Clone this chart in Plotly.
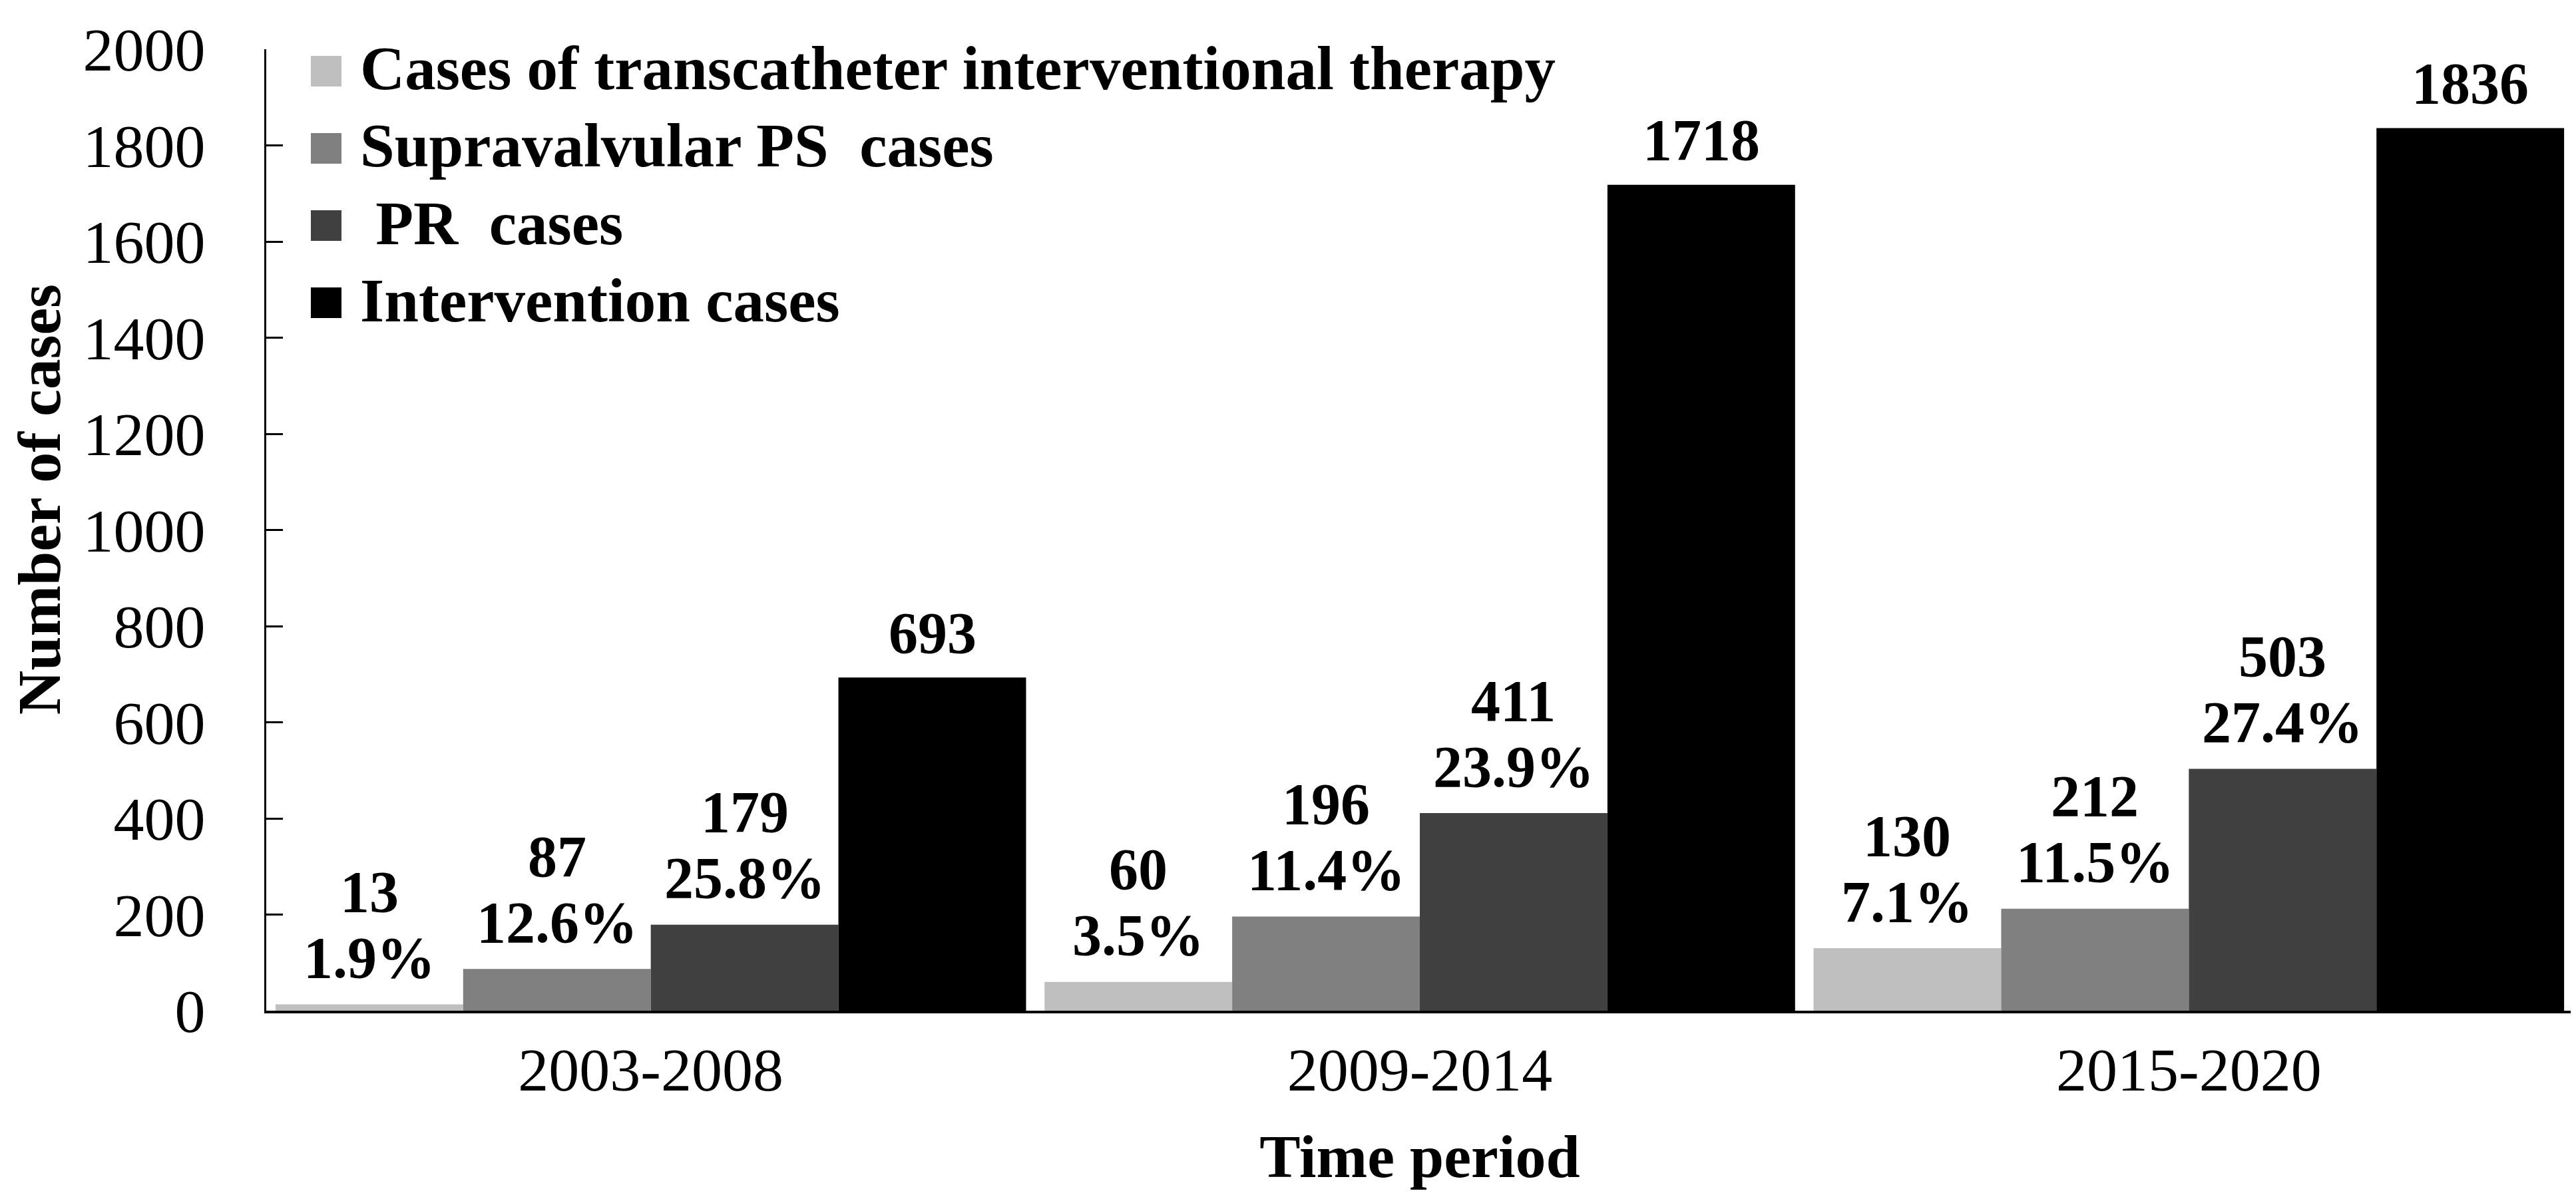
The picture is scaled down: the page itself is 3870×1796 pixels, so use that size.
import plotly.graph_objects as go

# ---------------- data ----------------
periods = ["2003-2008", "2009-2014", "2015-2020"]
series_names = [
    "Cases of transcatheter interventional therapy",
    "Supravalvular PS\u00a0 cases",
    "\u00a0PR\u00a0 cases",
    "Intervention cases",
]
transcatheter = [13, 60, 130]
supravalvular = [87, 196, 212]
pr_cases = [179, 411, 503]
intervention = [693, 1718, 1836]
transcatheter_pct = ["1.9%", "3.5%", "7.1%"]
supravalvular_pct = ["12.6%", "11.4%", "11.5%"]
pr_pct = ["25.8%", "23.9%", "27.4%"]
y_tick_values = [0, 200, 400, 600, 800, 1000, 1200, 1400, 1600, 1800, 2000]

# ---------------- style ----------------
colors = ["#BFBFBF", "#808080", "#404040", "#000000"]
FONT = "Liberation Serif, Times New Roman, serif"
BARGAP = 0.024
W, H = 3870, 1796
ML, MR, MT, MB = 392, 12, 66, 285
PW, PH = W - ML - MR, H - MT - MB


def px_to_paper(px, py):
    return (px - ML) / PW, (H - MB - py) / PH


series_values = [transcatheter, supravalvular, pr_cases, intervention]
series_pcts = [transcatheter_pct, supravalvular_pct, pr_pct, None]

fig = go.Figure()
for name, vals, col in zip(series_names, series_values, colors):
    fig.add_trace(go.Bar(
        name=name, x=periods, y=vals, showlegend=False,
        marker=dict(color=col, line=dict(width=0)),
    ))

# value labels (count above percentage)
n = len(series_values)
w = (1 - BARGAP) / n
annotations = []
lab_font = dict(family=FONT, size=88, color="black", weight="bold")
for i, (vals, pcts) in enumerate(zip(series_values, series_pcts)):
    for j, v in enumerate(vals):
        xpos = j + (i - (n - 1) / 2) * w
        if pcts is not None:
            annotations.append(dict(x=xpos, y=v, xref="x", yref="y", text=pcts[j],
                                    showarrow=False, yanchor="middle", yshift=70,
                                    font=lab_font))
            annotations.append(dict(x=xpos, y=v, xref="x", yref="y", text=str(v),
                                    showarrow=False, yanchor="middle", yshift=169,
                                    font=lab_font))
        else:
            annotations.append(dict(x=xpos, y=v, xref="x", yref="y", text=str(v),
                                    showarrow=False, yanchor="middle", yshift=67,
                                    font=lab_font))

# legend (square swatch + bold label per series)
shapes = []
LEG_SQ_X0, LEG_SQ_X1, LEG_SQ = 459, 505, 46
LEG_TEXT_X = 531
LEG_ROW0, LEG_ROW_STEP = 99, 116
for k, (name, col) in enumerate(zip(series_names, colors)):
    cy = LEG_ROW0 + k * LEG_ROW_STEP
    x0, y0 = px_to_paper(LEG_SQ_X0, cy + LEG_SQ / 2)
    x1, y1 = px_to_paper(LEG_SQ_X1, cy - LEG_SQ / 2)
    shapes.append(dict(type="rect", xref="paper", yref="paper",
                       x0=x0, x1=x1, y0=y0, y1=y1,
                       fillcolor=col, line=dict(width=0), layer="above"))
    tx, ty = px_to_paper(LEG_TEXT_X, cy - 4)
    annotations.append(dict(x=tx, y=ty, xref="paper", yref="paper", text=name,
                            showarrow=False, xanchor="left", yanchor="middle",
                            font=dict(family=FONT, size=93, color="black", weight="bold")))

fig.update_layout(
    width=W, height=H,
    margin=dict(l=ML, r=MR, t=MT, b=MB),
    paper_bgcolor="white", plot_bgcolor="white",
    barmode="group", bargap=BARGAP, bargroupgap=0,
    font=dict(family=FONT, size=92, color="black"),
    showlegend=False,
    annotations=annotations,
    shapes=shapes,
    xaxis=dict(
        automargin=False,
        showline=True, linecolor="black", linewidth=4,
        ticks="", showgrid=False, zeroline=False,
        tickfont=dict(family=FONT, size=92, color="black"),
        ticklabelstandoff=6,
        title=dict(text="Time period", standoff=47,
                   font=dict(family=FONT, size=92, color="black", weight="bold")),
    ),
    yaxis=dict(
        automargin=False,
        range=[0, 2000], tickvals=y_tick_values,
        showline=True, linecolor="black", linewidth=3,
        ticks="inside", ticklen=25, tickwidth=3, tickcolor="black",
        showgrid=False, zeroline=False,
        tickfont=dict(family=FONT, size=92, color="black"),
        ticklabelstandoff=70,
        title=dict(text="\u200b\u00a0\u00a0\u00a0\u00a0Number of cases", standoff=37,
                   font=dict(family=FONT, size=92, color="black", weight="bold")),
    ),
)

fig.write_html("out.html")
